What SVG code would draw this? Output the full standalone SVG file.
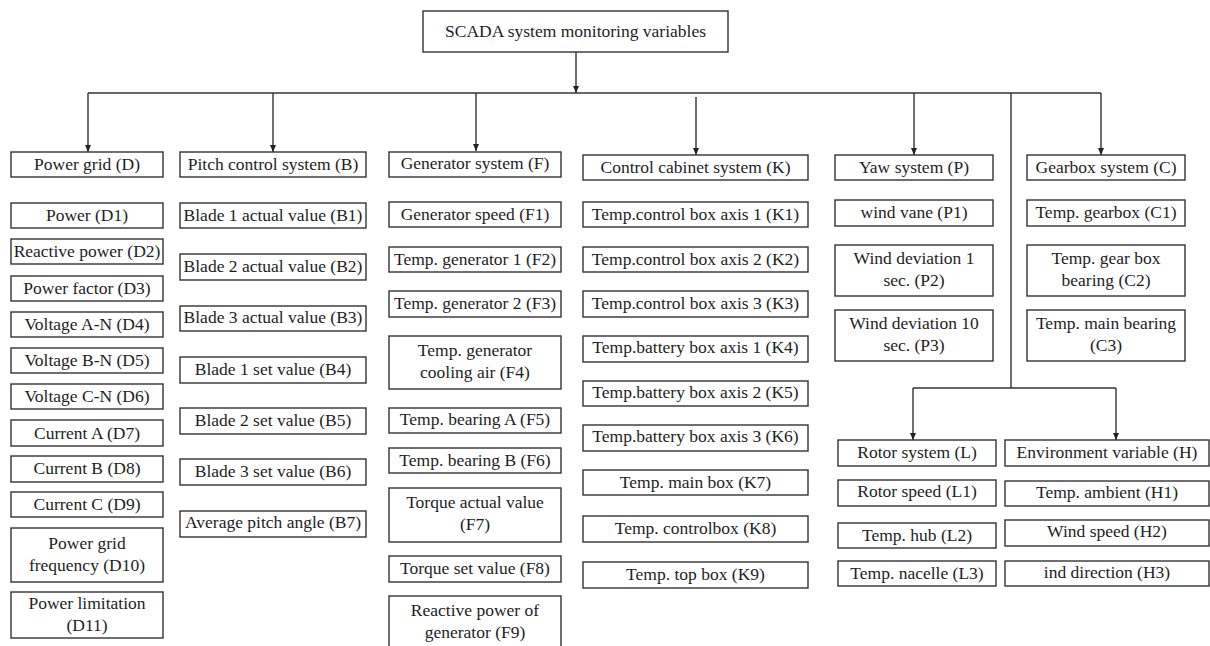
<svg xmlns="http://www.w3.org/2000/svg" width="1210" height="646" viewBox="0 0 1210 646">
<defs>
<style>
rect{fill:#fff;stroke:#333;stroke-width:1.4}
text{font-family:"Liberation Serif","DejaVu Serif",serif;font-size:17.5px;fill:#1e1e1e;text-anchor:middle}
.c{fill:none;stroke:#333;stroke-width:1.4}
</style>
<marker id="ah" markerWidth="8" markerHeight="8" refX="7" refY="4" orient="auto" markerUnits="userSpaceOnUse"><path d="M0,1 L7,4 L0,7 Z" fill="#222"/></marker>
</defs>
<rect x="0" y="0" width="1210" height="646" style="fill:#fff;stroke:none"/>
<g id="connectors">
<path class="c" d="M576,52 V93" marker-end="url(#ah)"/>
<path class="c" d="M88,93 H1101"/>
<path class="c" d="M88,93 V152" marker-end="url(#ah)"/>
<path class="c" d="M273,93 V152" marker-end="url(#ah)"/>
<path class="c" d="M476,93 V151" marker-end="url(#ah)"/>
<path class="c" d="M696,97 V155" marker-end="url(#ah)"/>
<path class="c" d="M914,93 V155" marker-end="url(#ah)"/>
<path class="c" d="M1101,93 V155" marker-end="url(#ah)"/>
<path class="c" d="M1011,93 V388"/>
<path class="c" d="M913,388 H1116"/>
<path class="c" d="M913,388 V440" marker-end="url(#ah)"/>
<path class="c" d="M1116,388 V440" marker-end="url(#ah)"/>
</g>
<g id="root"><rect x="423" y="11" width="305" height="41"/><text x="575.5" y="37">SCADA system monitoring variables</text></g>

<g id="D"><rect x="11" y="152" width="152" height="25"/><text x="87" y="170">Power grid (D)</text></g>
<g id="D1"><rect x="11" y="203" width="152" height="25"/><text x="87" y="221">Power (D1)</text></g>
<g id="D2"><rect x="11" y="239" width="152" height="25"/><text x="87" y="257">Reactive power (D2)</text></g>
<g id="D3"><rect x="11" y="276" width="152" height="25"/><text x="87" y="294">Power factor (D3)</text></g>
<g id="D4"><rect x="11" y="312" width="152" height="25"/><text x="87" y="330">Voltage A-N (D4)</text></g>
<g id="D5"><rect x="11" y="348" width="152" height="25"/><text x="87" y="366">Voltage B-N (D5)</text></g>
<g id="D6"><rect x="11" y="384" width="152" height="25"/><text x="87" y="402">Voltage C-N (D6)</text></g>
<g id="D7"><rect x="11" y="420" width="152" height="26"/><text x="87" y="439">Current A (D7)</text></g>
<g id="D8"><rect x="11" y="456" width="152" height="26"/><text x="87" y="474">Current B (D8)</text></g>
<g id="D9"><rect x="11" y="492" width="152" height="25"/><text x="87" y="510">Current C (D9)</text></g>
<g id="D10"><rect x="11" y="528" width="152" height="54"/><text x="87" y="549">Power grid</text><text x="87" y="571">frequency (D10)</text></g>
<g id="D11"><rect x="11" y="592" width="152" height="46"/><text x="87" y="609">Power limitation</text><text x="87" y="631">(D11)</text></g>

<g id="B"><rect x="180" y="152" width="186" height="25"/><text x="273" y="170">Pitch control system (B)</text></g>
<g id="B1"><rect x="180" y="203" width="186" height="25"/><text x="273" y="221">Blade 1 actual value (B1)</text></g>
<g id="B2"><rect x="180" y="254" width="186" height="26"/><text x="273" y="272">Blade 2 actual value (B2)</text></g>
<g id="B3"><rect x="180" y="306" width="186" height="25"/><text x="273" y="323">Blade 3 actual value (B3)</text></g>
<g id="B4"><rect x="180" y="357" width="186" height="26"/><text x="273" y="375">Blade 1 set value (B4)</text></g>
<g id="B5"><rect x="180" y="408" width="186" height="26"/><text x="273" y="426">Blade 2 set value (B5)</text></g>
<g id="B6"><rect x="180" y="459" width="186" height="26"/><text x="273" y="477">Blade 3 set value (B6)</text></g>
<g id="B7"><rect x="180" y="511" width="186" height="26"/><text x="273" y="528">Average pitch angle (B7)</text></g>

<g id="F"><rect x="389" y="152" width="172" height="25"/><text x="475" y="169">Generator system (F)</text></g>
<g id="F1"><rect x="389" y="202" width="172" height="25"/><text x="475" y="220">Generator speed (F1)</text></g>
<g id="F2"><rect x="389" y="247" width="172" height="25"/><text x="475" y="265">Temp. generator 1 (F2)</text></g>
<g id="F3"><rect x="389" y="291" width="172" height="26"/><text x="475" y="309">Temp. generator 2 (F3)</text></g>
<g id="F4"><rect x="389" y="336" width="172" height="53"/><text x="475" y="356">Temp. generator</text><text x="475" y="378">cooling air (F4)</text></g>
<g id="F5"><rect x="389" y="408" width="172" height="25"/><text x="475" y="425">Temp. bearing A (F5)</text></g>
<g id="F6"><rect x="389" y="448" width="172" height="25"/><text x="475" y="466">Temp. bearing B (F6)</text></g>
<g id="F7"><rect x="389" y="488" width="172" height="54"/><text x="475" y="508">Torque actual value</text><text x="475" y="530">(F7)</text></g>
<g id="F8"><rect x="389" y="556" width="172" height="26"/><text x="475" y="574">Torque set value (F8)</text></g>
<g id="F9"><rect x="389" y="596" width="172" height="60"/><text x="475" y="616">Reactive power of</text><text x="475" y="638">generator (F9)</text></g>

<g id="K"><rect x="583" y="155" width="225" height="25"/><text x="695.5" y="173">Control cabinet system (K)</text></g>
<g id="K1"><rect x="583" y="202" width="225" height="25"/><text x="695.5" y="220">Temp.control box axis 1 (K1)</text></g>
<g id="K2"><rect x="583" y="247" width="225" height="25"/><text x="695.5" y="265">Temp.control box axis 2 (K2)</text></g>
<g id="K3"><rect x="583" y="291" width="225" height="26"/><text x="695.5" y="309">Temp.control box axis 3 (K3)</text></g>
<g id="K4"><rect x="583" y="336" width="225" height="26"/><text x="695.5" y="353">Temp.battery box axis 1 (K4)</text></g>
<g id="K5"><rect x="583" y="381" width="225" height="25"/><text x="695.5" y="398">Temp.battery box axis 2 (K5)</text></g>
<g id="K6"><rect x="583" y="425" width="225" height="26"/><text x="695.5" y="442">Temp.battery box axis 3 (K6)</text></g>
<g id="K7"><rect x="583" y="470" width="225" height="25"/><text x="695.5" y="488">Temp. main box (K7)</text></g>
<g id="K8"><rect x="583" y="516" width="225" height="26"/><text x="695.5" y="534">Temp. controlbox (K8)</text></g>
<g id="K9"><rect x="583" y="562" width="225" height="26"/><text x="695.5" y="580">Temp. top box (K9)</text></g>

<g id="P"><rect x="835" y="155" width="158" height="25"/><text x="914" y="173">Yaw system (P)</text></g>
<g id="P1"><rect x="835" y="200" width="158" height="26"/><text x="914" y="218">wind vane (P1)</text></g>
<g id="P2"><rect x="835" y="245" width="158" height="51"/><text x="914" y="264">Wind deviation 1</text><text x="914" y="286">sec. (P2)</text></g>
<g id="P3"><rect x="835" y="310" width="158" height="51"/><text x="914" y="329">Wind deviation 10</text><text x="914" y="351">sec. (P3)</text></g>

<g id="C"><rect x="1027" y="155" width="158" height="25"/><text x="1106" y="173">Gearbox system (C)</text></g>
<g id="C1"><rect x="1027" y="200" width="158" height="26"/><text x="1106" y="218">Temp. gearbox (C1)</text></g>
<g id="C2"><rect x="1027" y="245" width="158" height="51"/><text x="1106" y="264">Temp. gear box</text><text x="1106" y="286">bearing (C2)</text></g>
<g id="C3"><rect x="1027" y="310" width="158" height="51"/><text x="1106" y="329">Temp. main bearing</text><text x="1106" y="351">(C3)</text></g>

<g id="L"><rect x="838" y="440" width="158" height="26"/><text x="917" y="458">Rotor system (L)</text></g>
<g id="L1"><rect x="838" y="480" width="158" height="26"/><text x="917" y="497">Rotor speed (L1)</text></g>
<g id="L2"><rect x="838" y="523" width="158" height="25"/><text x="917" y="541">Temp. hub (L2)</text></g>
<g id="L3"><rect x="838" y="561" width="158" height="25"/><text x="917" y="579">Temp. nacelle (L3)</text></g>

<g id="H"><rect x="1005" y="440" width="204" height="26"/><text x="1107" y="458">Environment variable (H)</text></g>
<g id="H1"><rect x="1005" y="481" width="204" height="25"/><text x="1107" y="498">Temp. ambient (H1)</text></g>
<g id="H2"><rect x="1005" y="520" width="204" height="26"/><text x="1107" y="537">Wind speed (H2)</text></g>
<g id="H3"><rect x="1005" y="561" width="204" height="25"/><text x="1107" y="578">ind direction (H3)</text></g>
</svg>
